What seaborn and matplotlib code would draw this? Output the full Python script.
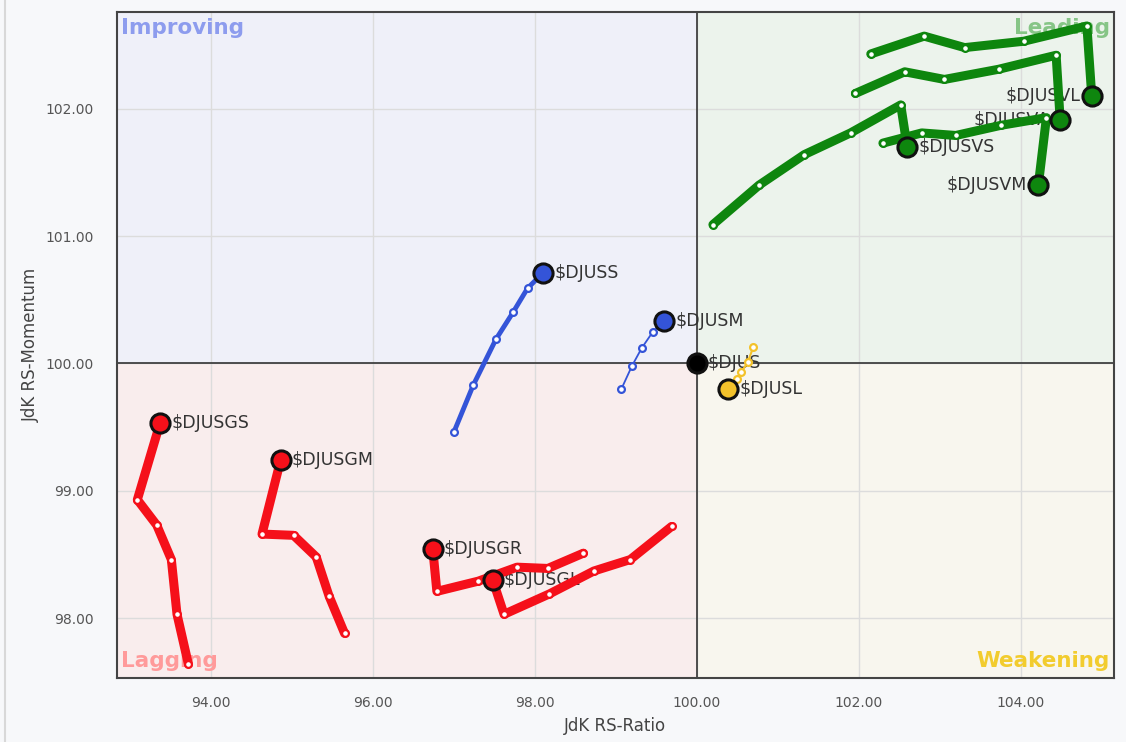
import pandas as pd
import matplotlib.pyplot as plt
import seaborn as sns
from matplotlib.lines import Line2D
from matplotlib.ticker import FormatStrFormatter

# RRG tails: (RS-Ratio, RS-Momentum), oldest point first, last point = head
vl_x = [102.15, 102.81, 103.31, 104.04, 104.82, 104.88]
vl_y = [102.43, 102.57, 102.48, 102.53, 102.65, 102.10]
va_x = [101.96, 102.57, 103.06, 103.73, 104.44, 104.49]
va_y = [102.12, 102.29, 102.23, 102.31, 102.42, 101.91]
vs_x = [100.20, 100.77, 101.33, 101.90, 102.52, 102.60]
vs_y = [101.09, 101.40, 101.64, 101.81, 102.03, 101.70]
vm_x = [102.30, 102.78, 103.20, 103.76, 104.32, 104.22]
vm_y = [101.73, 101.81, 101.79, 101.87, 101.93, 101.40]
ss_x = [97.00, 97.24, 97.52, 97.73, 97.91, 98.10]
ss_y = [99.46, 99.83, 100.19, 100.40, 100.59, 100.71]
sm_x = [99.07, 99.20, 99.32, 99.46, 99.60]
sm_y = [99.80, 99.98, 100.12, 100.25, 100.33]
sl_x = [100.70, 100.63, 100.55, 100.50, 100.39]
sl_y = [100.13, 100.01, 99.93, 99.88, 99.80]
gs_x = [93.72, 93.58, 93.51, 93.33, 93.09, 93.37]
gs_y = [97.64, 98.03, 98.46, 98.73, 98.93, 99.53]
gm_x = [95.65, 95.46, 95.30, 95.02, 94.63, 94.86]
gm_y = [97.88, 98.17, 98.48, 98.65, 98.66, 99.24]
gr_x = [98.60, 98.16, 97.78, 97.30, 96.79, 96.74]
gr_y = [98.51, 98.39, 98.40, 98.29, 98.21, 98.54]
gl_x = [99.69, 99.18, 98.73, 98.18, 97.62, 97.48]
gl_y = [98.72, 98.46, 98.37, 98.19, 98.03, 98.30]
bench_x = [100.00]
bench_y = [100.00]

tickers = ['$DJUSVL', '$DJUSVA', '$DJUSVS', '$DJUSVM', '$DJUSS', '$DJUSM',
           '$DJUSL', '$DJUSGS', '$DJUSGM', '$DJUSGR', '$DJUSGL', '$DJUS']
xs = [vl_x, va_x, vs_x, vm_x, ss_x, sm_x, sl_x, gs_x, gm_x, gr_x, gl_x, bench_x]
ys = [vl_y, va_y, vs_y, vm_y, ss_y, sm_y, sl_y, gs_y, gm_y, gr_y, gl_y, bench_y]
label_left = ['$DJUSVL', '$DJUSVA', '$DJUSVM']

green, red, blue, gold = '#0e860e', '#f5101a', '#3454d8', '#f3c22b'
colors = [green] * 4 + [blue, blue, gold] + [red] * 4 + ['black']
widths = [6.5] * 4 + [3.5, 1.3, 1.5] + [6.5] * 4 + [0]

rows = []
for t, xx, yy in zip(tickers, xs, ys):
    for i, (a, b) in enumerate(zip(xx, yy)):
        rows.append({'ticker': t, 'step': i, 'ratio': a, 'momentum': b,
                     'head': i == len(xx) - 1})
df = pd.DataFrame(rows)

sns.set_style('white')
plt.rcParams['font.family'] = ['DejaVu Sans']

fig = plt.figure(figsize=(11.26, 7.42), dpi=100, facecolor='#f7f8fa')
ax = fig.add_axes([0.104, 0.0863, 0.885, 0.8976])
x0, x1, y0, y1 = 92.84, 105.15, 97.53, 102.76
ax.set_xlim(x0, x1)
ax.set_ylim(y0, y1)

# quadrants
ax.fill_between([x0, 100], 100, y1, color='#eff0f9', zorder=0, lw=0)
ax.fill_between([100, x1], 100, y1, color='#ecf3ec', zorder=0, lw=0)
ax.fill_between([x0, 100], y0, 100, color='#f9eded', zorder=0, lw=0)
ax.fill_between([100, x1], y0, 100, color='#f8f6ee', zorder=0, lw=0)

ax.set_xticks([94, 96, 98, 100, 102, 104])
ax.set_yticks([98, 99, 100, 101, 102])
ax.xaxis.set_major_formatter(FormatStrFormatter('%.2f'))
ax.yaxis.set_major_formatter(FormatStrFormatter('%.2f'))
ax.grid(True, color='#dcdcdc', lw=1, zorder=0.5)
ax.set_axisbelow(True)
ax.axvline(100, color='#333333', lw=1.2, zorder=1)
ax.axhline(100, color='#333333', lw=1.2, zorder=1)
ax.tick_params(length=0, labelsize=10, labelcolor='#555555')
ax.tick_params(axis='x', pad=13)
ax.tick_params(axis='y', pad=17)
for s in ax.spines.values():
    s.set_color('#444444')
    s.set_linewidth(1.5)

qfont = dict(fontsize=15.5, fontweight='bold', transform=ax.transAxes, zorder=1.2)
ax.text(0.004, 0.976, 'Improving', color='#8d9cee', ha='left', va='center', **qfont)
ax.text(0.996, 0.976, 'Leading', color='#86c586', ha='right', va='center', **qfont)
ax.text(0.004, 0.025, 'Lagging', color='#ff9a9a', ha='left', va='center', **qfont)
ax.text(0.996, 0.025, 'Weakening', color='#f2cc2e', ha='right', va='center', **qfont)

for t, c, w in zip(tickers, colors, widths):
    d = df[df['ticker'] == t]
    if w > 0:
        sns.lineplot(data=d, x='ratio', y='momentum', sort=False, estimator=None,
                     color=c, lw=w, ax=ax, zorder=3, solid_capstyle='round',
                     solid_joinstyle='round')
        tail = d[~d['head']]
        sns.scatterplot(data=tail, x='ratio', y='momentum', color='white',
                        edgecolor=c, s=24, linewidth=1.6, ax=ax, zorder=4)
    head = d[d['head']]
    sns.scatterplot(data=head, x='ratio', y='momentum', color=c,
                    edgecolor='#111111', s=190, linewidth=2.2, ax=ax, zorder=5)
    hx, hy = head['ratio'].iloc[0], head['momentum'].iloc[0]
    if t in label_left:
        ax.annotate(t, (hx, hy), xytext=(-8, 0), textcoords='offset points',
                    ha='right', va='center', fontsize=12.5, color='#333333', zorder=2)
    else:
        ax.annotate(t, (hx, hy), xytext=(8, 0), textcoords='offset points',
                    ha='left', va='center', fontsize=12.5, color='#333333', zorder=2)

ax.set_xlabel('JdK RS-Ratio', fontsize=12, color='#444444', labelpad=5)
ax.set_ylabel('JdK RS-Momentum', fontsize=12, color='#444444', labelpad=4)

fig.add_artist(Line2D([5 / 1126, 5 / 1126], [0, 1], color='#d8d8d8', lw=1.5))

plt.savefig('out.png', dpi=100, facecolor=fig.get_facecolor())
